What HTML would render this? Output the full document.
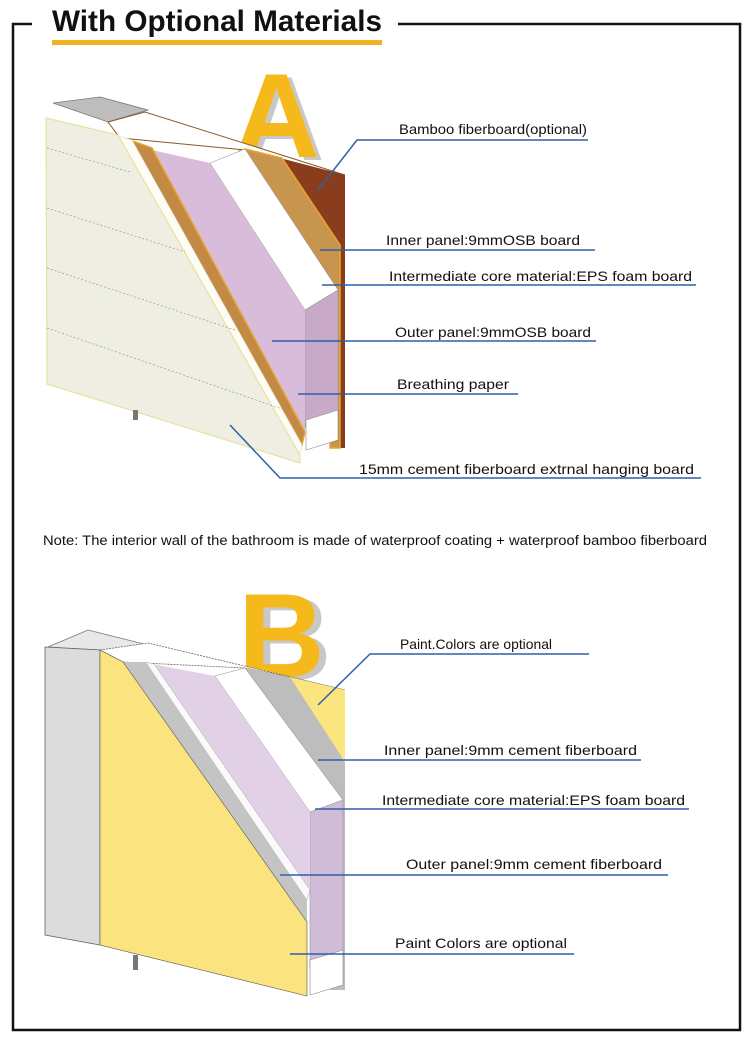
<!DOCTYPE html>
<html><head><meta charset="utf-8"><style>
html,body{margin:0;padding:0;background:#fff;}
body{width:750px;height:1055px;overflow:hidden;}
svg{display:block;}
text{font-family:"Liberation Sans",sans-serif;}
</style></head><body>
<svg width="750" height="1055" viewBox="0 0 750 1055" xmlns="http://www.w3.org/2000/svg">
<rect width="750" height="1055" fill="#fff"/>
<g stroke="#111" stroke-width="2.5" fill="none">
<path d="M32 24 H13 V1030 H740 V24 H398"/>
</g>
<text x="52" y="31" font-size="30" font-weight="bold" fill="#111" textLength="330" lengthAdjust="spacingAndGlyphs">With Optional Materials</text>
<rect x="52" y="40" width="330" height="5" fill="#f0b21e"/>

<!-- ===== Diagram A ===== -->
<text x="238" y="160" font-size="120" font-weight="bold" fill="#c8c8c8">A</text>
<text x="233" y="157" font-size="120" font-weight="bold" fill="#f6b91c">A</text>
<polygon points="53,103 100,97 148,110 108,122" fill="#bdbdbd" stroke="#777" stroke-width="0.8"/>
<polygon points="108,122 145,112 345,175 280,160 245,150 120,138" fill="#fff" stroke="#8a5a2a" stroke-width="1"/>
<polygon points="280,158 345,175 345,448 338,448 300,230" fill="#8a3d1c"/>
<polygon points="245,149 282,158 340,245 340,448 330,448 330,300" fill="#c7954e" stroke="#e8a630" stroke-width="1.5"/>
<polygon points="210,163 245,149 338,290 305,310" fill="#fff" stroke="#999" stroke-width="0.6"/>
<polygon points="305,310 338,290 338,420 305,428" fill="#c8aac8" stroke="#999" stroke-width="0.6"/>
<polygon points="306,420 338,410 338,440 306,450" fill="#fff" stroke="#888" stroke-width="0.6"/>
<polygon points="152,150 210,163 305,310 305,432" fill="#d9bcd9"/>
<polygon points="130,140 152,148 305,432 302,445" fill="#c28a45" stroke="#e8a630" stroke-width="1.5"/>
<polygon points="118,136 132,140 302,445 300,455" fill="#fdfdf5" stroke="#ddd" stroke-width="0.6"/>
<polygon points="46,118 118,135 300,455 300,463 47,384" fill="#efeee3" stroke="#e8e2a0" stroke-width="1.2"/>
<g stroke="#999" stroke-width="0.7" stroke-dasharray="2,2">
<line x1="47" y1="148" x2="130" y2="172"/>
<line x1="47" y1="208" x2="185" y2="252"/>
<line x1="47" y1="268" x2="235" y2="330"/>
<line x1="47" y1="328" x2="285" y2="410"/>
</g>
<rect x="133" y="410" width="5" height="10" fill="#777"/>
<g stroke="#2f5fa8" stroke-width="1.5" fill="none">
<polyline points="318,190 357,140 588,140"/>
<line x1="320" y1="250" x2="595" y2="250"/>
<line x1="322" y1="285" x2="696" y2="285"/>
<line x1="272" y1="341" x2="596" y2="341"/>
<line x1="298" y1="394" x2="518" y2="394"/>
<polyline points="230,425 280,478 701,478"/>
</g>
<g font-size="14" fill="#111" lengthAdjust="spacingAndGlyphs">
<text x="399" y="134" textLength="188" lengthAdjust="spacingAndGlyphs">Bamboo fiberboard(optional)</text>
<text x="386" y="245" textLength="194" lengthAdjust="spacingAndGlyphs">Inner panel:9mmOSB board</text>
<text x="389" y="281" textLength="303" lengthAdjust="spacingAndGlyphs">Intermediate core material:EPS foam board</text>
<text x="395" y="337" textLength="196" lengthAdjust="spacingAndGlyphs">Outer panel:9mmOSB board</text>
<text x="397" y="389" textLength="112" lengthAdjust="spacingAndGlyphs">Breathing paper</text>
<text x="359" y="474" textLength="335" lengthAdjust="spacingAndGlyphs">15mm cement fiberboard extrnal hanging board</text>
</g>
<text x="43" y="545" font-size="13.5" fill="#111" textLength="664" lengthAdjust="spacingAndGlyphs">Note: The interior wall of the bathroom is made of waterproof coating + waterproof bamboo fiberboard</text>

<!-- ===== Diagram B ===== -->
<text x="245" y="680" font-size="120" font-weight="bold" fill="#c8c8c8">B</text>
<text x="238" y="677" font-size="120" font-weight="bold" fill="#f6b91c">B</text>
<polygon points="48,647 88,630 148,645 100,650" fill="#e8e8e8" stroke="#777" stroke-width="0.8"/>
<polygon points="100,650 148,643 345,690 290,677 245,668 123,662" fill="#fff" stroke="#666" stroke-width="0.8" stroke-dasharray="2,1"/>
<polygon points="290,677 345,690 345,760 330,745" fill="#fae57f"/>
<polygon points="245,668 290,677 345,762 345,990 330,990 330,790" fill="#bdbdbd"/>
<polygon points="215,676 245,668 343,800 310,812" fill="#fff" stroke="#999" stroke-width="0.6"/>
<polygon points="310,812 343,800 343,960 310,968" fill="#d0bcd6" stroke="#999" stroke-width="0.6"/>
<polygon points="310,960 343,950 343,985 310,995" fill="#fff" stroke="#888" stroke-width="0.6"/>
<polygon points="152,664 215,676 310,812 310,890" fill="#e2d0e6"/>
<polygon points="145,662 154,664 310,890 307,900" fill="#fafafa" stroke="#aaa" stroke-width="0.5"/>
<polygon points="123,662 146,662 307,900 307,922" fill="#c4c4c4"/>
<polygon points="45,647 100,650 100,945 45,935" fill="#dcdcdc" stroke="#666" stroke-width="0.8"/>
<polygon points="100,650 123,662 307,922 307,996 100,945" fill="#fbe47f" stroke="#555" stroke-width="0.6"/>
<rect x="133" y="955" width="5" height="15" fill="#777"/>
<g stroke="#2f5fa8" stroke-width="1.5" fill="none">
<polyline points="318,705 370,654 589,654"/>
<line x1="318" y1="760" x2="641" y2="760"/>
<line x1="315" y1="809" x2="689" y2="809"/>
<line x1="280" y1="875" x2="668" y2="875"/>
<line x1="290" y1="954" x2="574" y2="954"/>
</g>
<g font-size="14" fill="#111">
<text x="400" y="649" textLength="152" lengthAdjust="spacingAndGlyphs">Paint.Colors are optional</text>
<text x="384" y="755" textLength="253" lengthAdjust="spacingAndGlyphs">Inner panel:9mm cement fiberboard</text>
<text x="382" y="805" textLength="303" lengthAdjust="spacingAndGlyphs">Intermediate core material:EPS foam board</text>
<text x="406" y="869" textLength="256" lengthAdjust="spacingAndGlyphs">Outer panel:9mm cement fiberboard</text>
<text x="395" y="948" textLength="172" lengthAdjust="spacingAndGlyphs">Paint Colors are optional</text>
</g>
</svg>
</body></html>
